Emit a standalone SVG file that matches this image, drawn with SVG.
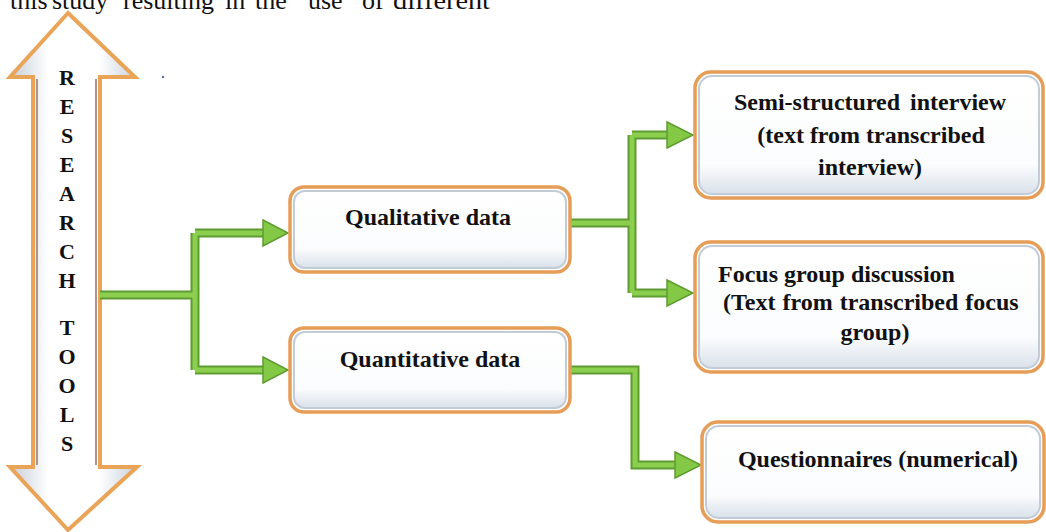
<svg xmlns="http://www.w3.org/2000/svg" width="1046" height="532" viewBox="0 0 1046 532">
<style>
.lbl{font-family:"Liberation Serif","Times New Roman",serif;font-weight:bold;font-size:24px;fill:#111;}
.vl{font-family:"Liberation Serif","Times New Roman",serif;font-weight:bold;font-size:22px;fill:#111;text-anchor:middle;}
.top{font-family:"Liberation Serif","Times New Roman",serif;font-size:26px;fill:#111;}
.mid{text-anchor:middle;}
.boxo{fill:#ffffff;stroke:#e69d57;stroke-width:3.5;}
.boxi{fill:url(#boxg);stroke:#c3ccd6;stroke-width:2;}
.ln-o{fill:none;stroke:#5e9c32;stroke-width:9;stroke-linejoin:miter;}
.ln-i{fill:none;stroke:#8ccf4e;stroke-width:5;stroke-linejoin:miter;}
.ah{fill:#84c946;stroke:#5e9c32;stroke-width:1.5;stroke-linejoin:miter;}
</style>
<defs>
<linearGradient id="boxg" x1="0" y1="0" x2="0" y2="1">
<stop offset="0" stop-color="#ffffff"/>
<stop offset="0.75" stop-color="#fbfcfd"/>
<stop offset="1" stop-color="#d9e1ea"/>
</linearGradient>
<linearGradient id="arrg" x1="0" y1="0" x2="1" y2="0">
<stop offset="0" stop-color="#c5cdd8"/>
<stop offset="0.3" stop-color="#ffffff"/>
<stop offset="0.7" stop-color="#ffffff"/>
<stop offset="1" stop-color="#c9d1dc"/>
</linearGradient>
</defs>
<rect width="1046" height="532" fill="#ffffff"/>

<text class="top" y="9"><tspan x="10">this</tspan><tspan x="52">study</tspan><tspan x="123">resulting</tspan><tspan x="225">in</tspan><tspan x="255">the</tspan><tspan x="308">use</tspan><tspan x="362">of</tspan><tspan x="393" textLength="97" lengthAdjust="spacingAndGlyphs">different</tspan></text>
<circle cx="163" cy="77" r="1.2" fill="#5a6aa8"/>

<g id="research-tools">
<polygon points="68,13 135,77 100,77 100,467 137,467 68,530 10,467 33,467 33,77 10,77" fill="url(#arrg)" stroke="#e9a458" stroke-width="4" stroke-linejoin="miter"/>
<line x1="37" y1="79" x2="37" y2="465" stroke="#a9958a" stroke-width="2"/>
<line x1="96" y1="79" x2="96" y2="465" stroke="#a9958a" stroke-width="2"/>
<text class="vl" x="67" y="85">R</text>
<text class="vl" x="67" y="114">E</text>
<text class="vl" x="67" y="143">S</text>
<text class="vl" x="67" y="172">E</text>
<text class="vl" x="67" y="201">A</text>
<text class="vl" x="67" y="230">R</text>
<text class="vl" x="67" y="259">C</text>
<text class="vl" x="67" y="288">H</text>
<text class="vl" x="67" y="335">T</text>
<text class="vl" x="67" y="364">O</text>
<text class="vl" x="67" y="393">O</text>
<text class="vl" x="67" y="422">L</text>
<text class="vl" x="67" y="451">S</text>
</g>

<g id="connectors">
<path class="ln-o" d="M100,295 H195 M195,233 V370 M195,233 H265 M195,370 H265"/>
<path class="ln-o" d="M570,223 H632 M632,135 V293 M632,135 H669 M632,293 H669"/>
<path class="ln-o" d="M570,370 H635 V465 H677"/>
<path class="ln-i" d="M100,295 H195 M195,233 V370 M195,233 H265 M195,370 H265"/>
<path class="ln-i" d="M570,223 H632 M632,135 V293 M632,135 H669 M632,293 H669"/>
<path class="ln-i" d="M570,370 H635 V465 H677"/>
<polygon class="ah" points="263,220 288,233 263,246"/>
<polygon class="ah" points="263,357 288,370 263,383"/>
<polygon class="ah" points="667,122 693,135 667,148"/>
<polygon class="ah" points="667,280 693,293 667,306"/>
<polygon class="ah" points="675,452 701,465 675,478"/>
</g>

<g id="qualitative">
<rect class="boxo" x="290" y="187" width="280" height="85" rx="14"/>
<rect class="boxi" x="294" y="191" width="272" height="77" rx="11"/>
<text class="lbl mid" x="428" y="225">Qualitative data</text>
</g>

<g id="quantitative">
<rect class="boxo" x="290" y="328" width="280" height="84" rx="14"/>
<rect class="boxi" x="294" y="332" width="272" height="76" rx="11"/>
<text class="lbl mid" x="430" y="367">Quantitative data</text>
</g>

<g id="semi-structured">
<rect class="boxo" x="695" y="72" width="348" height="126" rx="16"/>
<rect class="boxi" x="699" y="76" width="340" height="118" rx="13"/>
<text class="lbl mid" x="870" y="110" word-spacing="4">Semi-structured interview</text>
<text class="lbl mid" x="871" y="143">(text from transcribed</text>
<text class="lbl mid" x="870" y="175">interview)</text>
</g>

<g id="focus-group">
<rect class="boxo" x="695" y="242" width="348" height="130" rx="16"/>
<rect class="boxi" x="699" y="246" width="340" height="122" rx="13"/>
<text class="lbl" x="718" y="282">Focus group discussion</text>
<text class="lbl" x="723" y="310" word-spacing="1">(Text from transcribed focus</text>
<text class="lbl mid" x="875" y="340">group)</text>
</g>

<g id="questionnaires">
<rect class="boxo" x="702" y="422" width="342" height="100" rx="16"/>
<rect class="boxi" x="706" y="426" width="334" height="92" rx="13"/>
<text class="lbl mid" x="878" y="467">Questionnaires (numerical)</text>
</g>
</svg>
